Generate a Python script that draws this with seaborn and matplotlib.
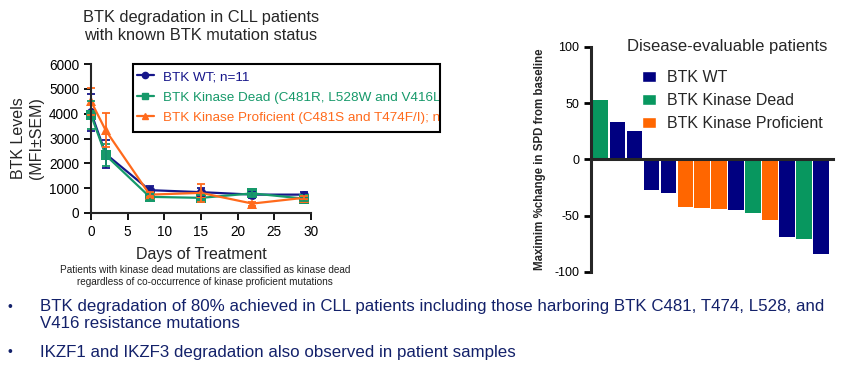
import numpy as np
import pandas as pd
import matplotlib
matplotlib.use("Agg")
import matplotlib.pyplot as plt
import seaborn as sns
from matplotlib.lines import Line2D
from matplotlib.patches import Patch, Rectangle
from matplotlib.transforms import Bbox, TransformedBbox

# --- data: BTK levels over time (MFI +/- SEM) ---
days = [0, 2, 8, 15, 22, 29]
wt_mean = [4050, 2380, 920, 840, 740, 740]
wt_sem = [750, 550, 150, 150, 150, 120]
dead_mean = [3950, 2330, 650, 610, 790, 580]
dead_sem = [550, 450, 120, 100, 150, 80]
prof_mean = [4500, 3330, 740, 810, 380, 610]
prof_sem = [540, 680, 100, 370, 80, 60]
series_labels = ["BTK WT; n=11",
                 "BTK Kinase Dead (C481R, L528W and V416L); n=5",
                 "BTK Kinase Proficient (C481S and T474F/I); n=4"]

# --- data: waterfall, max % change in SPD ---
spd_change = [52.5, 33.3, 25.0, -26.8, -29.5, -42.2, -43.0, -44.2,
              -44.8, -47.5, -53.4, -68.7, -70.8, -84.4]
spd_group = ["BTK Kinase Dead", "BTK WT", "BTK WT", "BTK WT", "BTK WT",
             "BTK Kinase Proficient", "BTK Kinase Proficient",
             "BTK Kinase Proficient", "BTK WT", "BTK Kinase Dead",
             "BTK Kinase Proficient", "BTK WT", "BTK Kinase Dead", "BTK WT"]
group_order = ["BTK WT", "BTK Kinase Dead", "BTK Kinase Proficient"]

line_colors = ["#16168a", "#16996a", "#ff6a1c"]
bar_colors = {"BTK WT": "#000080", "BTK Kinase Dead": "#08975f",
              "BTK Kinase Proficient": "#ff6600"}

sns.set_style("ticks")
plt.rcParams["font.family"] = ["Liberation Sans", "DejaVu Sans"]
plt.rcParams["axes.unicode_minus"] = False

W, H = 865, 366
fig = plt.figure(figsize=(W / 100, H / 100), dpi=100)

def fx(px):
    return px / W

def fy(py):
    return (H - py) / H

# ===== left: line chart =====
ax1 = fig.add_axes([fx(91), fy(213), 220 / W, 149 / H])
long = pd.DataFrame({
    "day": days * 3,
    "level": wt_mean + dead_mean + prof_mean,
    "sem": wt_sem + dead_sem + prof_sem,
    "group": [series_labels[0]] * 6 + [series_labels[1]] * 6 + [series_labels[2]] * 6,
})
markers = ["o", "s", "^"]
sns.lineplot(data=long, x="day", y="level", hue="group", style="group",
             hue_order=series_labels, style_order=series_labels,
             palette=line_colors, markers=markers, dashes=False,
             markersize=6.5, linewidth=1.6, markeredgewidth=0,
             legend=False, ax=ax1, clip_on=False)
for lab, col in zip(series_labels, line_colors):
    sub = long[long["group"] == lab]
    ax1.errorbar(sub["day"], sub["level"], yerr=sub["sem"], fmt="none",
                 ecolor=col, elinewidth=1.3, capsize=3, capthick=1.3,
                 clip_on=False)

ax1.set_xlim(0, 30)
ax1.set_ylim(0, 6000)
ax1.set_xticks(range(0, 31, 5))
ax1.set_yticks(range(0, 6001, 1000))
ax1.tick_params(labelsize=9.8, length=5, width=1.3, colors="black")
for s in ["left", "bottom"]:
    ax1.spines[s].set_linewidth(1.5)
sns.despine(ax=ax1)
ax1.set_xlabel("Days of Treatment", fontsize=11.5, labelpad=6)
ax1.set_ylabel("BTK Levels\n(MFI±SEM)", fontsize=11.5, labelpad=4)
ax1.set_title("BTK degradation in CLL patients\nwith known BTK mutation status",
              fontsize=11.8, pad=17, linespacing=1.3)

# legend with a frame that cuts the long labels off, as in the slide
handles = [Line2D([0], [0], color=c, marker=m, markersize=4.5, linewidth=1.6)
           for c, m in zip(line_colors, markers)]
leg1 = ax1.legend(handles, series_labels, loc="upper left",
                  bbox_to_anchor=(fx(134), fy(68)),
                  bbox_transform=fig.transFigure, fontsize=9.7,
                  frameon=False, handlelength=1.3, handletextpad=0.65,
                  labelspacing=0.6, borderpad=0.2, borderaxespad=0)
box = Rectangle((fx(133), fy(132)), (440 - 133) / W, (132 - 64) / H,
                transform=fig.transFigure, fill=False, edgecolor="black",
                linewidth=1.5, zorder=5)
fig.patches.append(box)
clip = TransformedBbox(Bbox([[fx(133), fy(132)], [fx(439), fy(64)]]),
                       fig.transFigure)
for t, c in zip(leg1.get_texts(), line_colors):
    t.set_color(c)
    t.set_clip_box(clip)
    t.set_clip_on(True)

fig.text(fx(205), fy(276),
         "Patients with kinase dead mutations are classified as kinase dead\n"
         "regardless of co-occurrence of kinase proficient mutations",
         ha="center", va="center", fontsize=7.2, color="#222222", linespacing=1.3)

# ===== right: waterfall =====
ax2 = fig.add_axes([fx(591), fy(272), 242 / W, 225.3 / H])
wf = pd.DataFrame({"patient": list(range(len(spd_change))),
                   "change": spd_change, "group": spd_group})
sns.barplot(data=wf, x="patient", y="change", hue="group",
            hue_order=group_order, palette=bar_colors, dodge=False,
            saturation=1, width=0.93, linewidth=0, legend=False, ax=ax2)
ax2.set_xlim(-0.565, 13.7)
ax2.set_ylim(-100, 100)
ax2.set_yticks([-100, -50, 0, 50, 100])
ax2.set_xticks([])
ax2.set_xlabel("")
ax2.spines["bottom"].set_position(("data", 0))
ax2.spines["bottom"].set_linewidth(2.2)
ax2.spines["left"].set_linewidth(2.2)
ax2.spines["top"].set_visible(False)
ax2.spines["right"].set_visible(False)
ax2.tick_params(axis="y", labelsize=9, length=5, width=2, colors="black")
ax2.set_ylabel("Maximim %change in SPD from baseline", fontsize=8.3,
               fontweight="bold", labelpad=6)

fig.text(fx(627), fy(46), "Disease-evaluable patients",
         fontsize=12, va="center", ha="left")
bar_handles = [Patch(facecolor=bar_colors[g]) for g in group_order]
leg2 = fig.legend(bar_handles, group_order, loc="upper left",
                  bbox_to_anchor=(fx(642), fy(70)), fontsize=11.5,
                  frameon=False, handlelength=0.85, handleheight=0.65,
                  handletextpad=0.7, labelspacing=0.5, borderpad=0,
                  borderaxespad=0)

# ===== bullets =====
bullet_color = "#13216a"
bullets = [(307, "BTK degradation of 80% achieved in CLL patients including those harboring BTK C481, T474, L528, and"),
           (324, "V416 resistance mutations"),
           (352, "IKZF1 and IKZF3 degradation also observed in patient samples")]
for i, (y, txt) in enumerate(bullets):
    if i != 1:
        fig.text(fx(8), fy(y), "•", fontsize=10, color=bullet_color,
                 va="center", ha="left")
    fig.text(fx(40), fy(y), txt, fontsize=12.2, color=bullet_color,
             va="center", ha="left")

fig.savefig("out.png", dpi=100)
